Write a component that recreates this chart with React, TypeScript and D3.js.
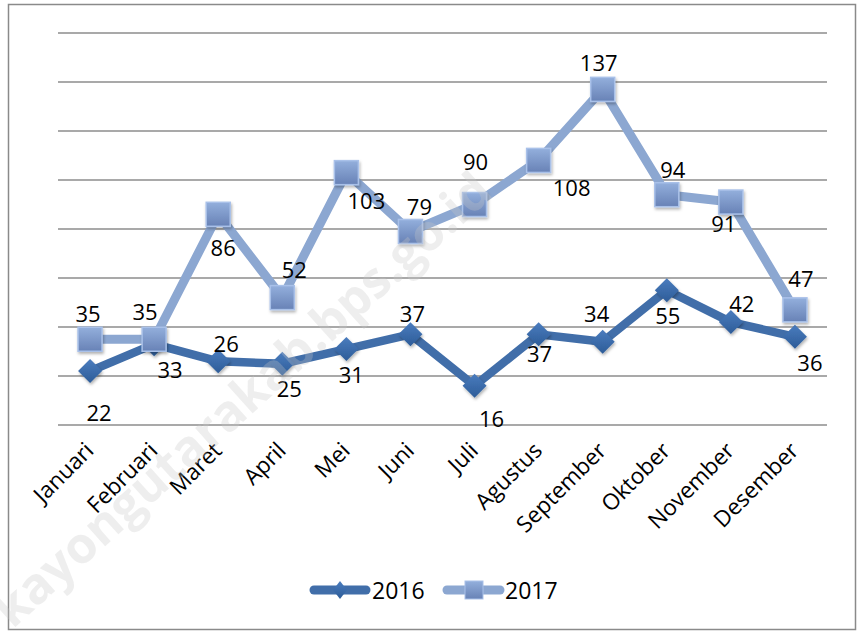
import React from 'react';
import * as d3 from 'd3';

const months = ['Januari', 'Februari', 'Maret', 'April', 'Mei', 'Juni', 'Juli', 'Agustus', 'September', 'Oktober', 'November', 'Desember'];
const values2016 = [22, 33, 26, 25, 31, 37, 16, 37, 34, 55, 42, 36];
const values2017 = [35, 35, 86, 52, 103, 79, 90, 108, 137, 94, 91, 47];
const gridTicks = [0, 20, 40, 60, 80, 100, 120, 140, 160];

// where Excel put each data label, relative to its point
const nudge2016 = [[9, 41], [16, 25], [8, -18], [7, 24], [5, 25], [2, -21], [17, 32], [1, 19], [-6, -29], [1, 25], [11, -19], [15, 25]];
const nudge2017 = [[-2, -26], [-9, -28], [5, 33], [12, -29], [20, 27], [9, -25], [1, -44], [33, 27], [-4, -27], [6, -26], [-7, 21], [6, -32]];

const W = 857;
const H = 631;
const FONT = '"Open Sans", "Liberation Sans", sans-serif';
const DARK = '#416ea9';
const LIGHT = '#8ca7d1';

export default function App() {
  const x = d3.scaleBand<string>().domain(months).range([58, 827]);
  const y = d3.scaleLinear().domain([0, 160]).range([425, 33]);
  const cx = (m: string) => (x(m) ?? 0) + x.bandwidth() / 2;

  const line = d3.line<number>()
    .x((_, i) => cx(months[i]))
    .y((d) => y(d));

  const diamond = (r: number) => `M0,${-r}L${r},0L0,${r}L${-r},0Z`;

  return (
    <svg width={W} height={H} style={{ position: 'absolute', left: 0, top: 0, background: '#fff' }} fontFamily={FONT}>
      <defs>
        <linearGradient id="sq" x1="0" y1="0" x2="0" y2="1">
          <stop offset="0" stopColor="#93afdc" />
          <stop offset="1" stopColor="#6882b6" />
        </linearGradient>
        <linearGradient id="dm" x1="0" y1="0" x2="0" y2="1">
          <stop offset="0" stopColor="#4a7cbe" />
          <stop offset="1" stopColor="#2d5c98" />
        </linearGradient>
        <filter id="sh" x="-50%" y="-50%" width="200%" height="200%">
          <feDropShadow dx="1" dy="2" stdDeviation="1.5" floodColor="#000" floodOpacity="0.3" />
        </filter>
      </defs>
      <rect x={8.5} y={4.5} width={847} height={625} fill="#fff" stroke="#8a8a8a" strokeWidth={1.5} />

      {gridTicks.map((t) => (
        <line key={t} x1={58} x2={827} y1={y(t)} y2={y(t)} stroke="#8c8c8c" strokeWidth={1.6} />
      ))}

      <path d={line(values2016) ?? ''} fill="none" stroke={DARK} strokeWidth={8.5} strokeLinejoin="round" />
      {values2016.map((v, i) => (
        <path key={i} d={diamond(12)} transform={`translate(${cx(months[i])},${y(v)})`} fill="url(#dm)" filter="url(#sh)" />
      ))}

      <path d={line(values2017) ?? ''} fill="none" stroke={LIGHT} strokeWidth={9} strokeLinejoin="round" />
      {values2017.map((v, i) => (
        <rect key={i} x={cx(months[i]) - 12} y={y(v) - 12} width={24} height={24} fill="url(#sq)" stroke="#a9c1e9" strokeWidth={1.5} filter="url(#sh)" />
      ))}

      {values2016.map((v, i) => (
        <text key={i} x={cx(months[i]) + nudge2016[i][0]} y={y(v) + nudge2016[i][1]} textAnchor="middle" dominantBaseline="central" fontSize={22} fill="#000">{v}</text>
      ))}
      {values2017.map((v, i) => (
        <text key={i} x={cx(months[i]) + nudge2017[i][0]} y={y(v) + nudge2017[i][1]} textAnchor="middle" dominantBaseline="central" fontSize={22} fill="#000">{v}</text>
      ))}

      {months.map((m) => (
        <text key={m} transform={`translate(${cx(m) + 5},${452}) rotate(-45)`} textAnchor="end" fontSize={22.5} fill="#000">{m}</text>
      ))}

      <g transform="translate(0,590)">
        <line x1={314} x2={366} stroke={DARK} strokeWidth={9} strokeLinecap="round" />
        <path d="M0,-9L7,0L0,9L-7,0Z" transform="translate(340,0)" fill="url(#dm)" />
        <text x={372} dominantBaseline="central" fontSize={23}>2016</text>
        <line x1={447} x2={500} stroke={LIGHT} strokeWidth={9} strokeLinecap="round" />
        <rect x={465} y={-9} width={18} height={18} fill="url(#sq)" stroke="#a9c1e9" strokeWidth={1} />
        <text x={505} dominantBaseline="central" fontSize={23}>2017</text>
      </g>

      <text transform="translate(495,195) rotate(-42)" textAnchor="end" fontSize={50} fontWeight="bold" fill="#c8c8c8" fillOpacity={0.3}>kayongutarakab.bps.go.id</text>
    </svg>
  );
}
